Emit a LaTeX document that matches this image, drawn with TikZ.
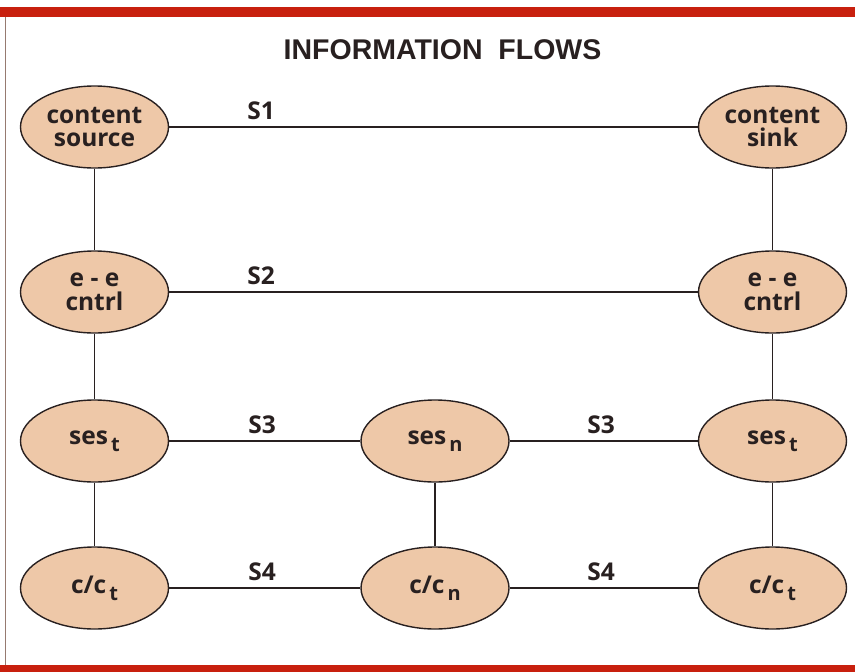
\documentclass[tikz,border=0pt]{standalone}
\usepackage{fontspec}
\setmainfont{Open Sans}
\newfontfamily\titlefont{Liberation Sans}
\usepackage{tikz}
\usetikzlibrary{shapes,positioning}
\definecolor{peach}{RGB}{238,200,168}
\definecolor{barred}{RGB}{200,32,14}
\definecolor{ink}{RGB}{40,32,32}
\definecolor{edge}{RGB}{150,122,112}
\newcommand{\lowsub}[1]{\kern3pt\raisebox{-7pt}{\fontsize{20}{20}\selectfont #1}}

\begin{document}
\begin{tikzpicture}
[x=1pt, y=1pt,
 ell/.style={ellipse, draw=ink, fill=peach, line width=1.4pt, align=center, inner sep=0pt, minimum width=148pt, minimum height=82pt, text=ink, font=\fontsize{24.5}{23.5}\selectfont\bfseries},
 lbl/.style={anchor=base, inner sep=0pt, text=ink, font=\fontsize{24.5}{24}\selectfont\bfseries},
 link/.style={-, line width=1.5pt, draw=ink},]
\useasboundingbox (0,0) rectangle (855,-672);
\fill[barred] (0,-7) rectangle (855,-17);
\fill[barred] (0,-665) rectangle (855,-672);
\draw[line width=0.8pt, edge] (5,-17) -- (5,-665);
\node[text=ink, font=\titlefont\fontsize{28.5}{28.5}\selectfont\bfseries] (title) at (442.5,-49.5) {INFORMATION\ \ FLOWS};
\node[ell] (A) at (94.5,-127) {content\\ source};
\node[ell] (B) [right of=A, node distance=678pt] {content\\ sink};
\node[ell] (C) [below of=A, node distance=165pt] {e - e\\ cntrl};
\node[ell] (D) [below of=B, node distance=165pt] {e - e\\ cntrl};
\node[ell] (E) [below of=C, node distance=149pt] {ses\lowsub{t}};
\node[ell] (F) [below of=D, node distance=149pt] {ses\lowsub{t}};
\node[ell] (G) [right of=E, node distance=340.5pt] {ses\lowsub{n}};
\node[ell] (H) [below of=E, node distance=147pt] {c/c\lowsub{t}};
\node[ell] (I) [below of=G, node distance=147pt] {c/c\lowsub{n}};
\node[ell] (J) [below of=F, node distance=147pt] {c/c\lowsub{t}};
\node[lbl] (s1) at (261,-119) {S1};
\node[lbl] (s2) at (261,-284) {S2};
\node[lbl] (s3a) at (262,-433) {S3};
\node[lbl] (s3b) at (601,-433) {S3};
\node[lbl] (s4a) at (262,-580) {S4};
\node[lbl] (s4b) at (601,-580) {S4};
\draw[link] (A)--(B);
\draw[link] (A)--(C);
\draw[link] (B)--(D);
\draw[link] (C)--(D);
\draw[link] (C)--(E);
\draw[link] (D)--(F);
\draw[link] (E)--(G);
\draw[link] (G)--(F);
\draw[link] (E)--(H);
\draw[link] (G)--(I);
\draw[link] (F)--(J);
\draw[link] (H)--(I);
\draw[link] (I)--(J);
\end{tikzpicture}
\end{document}
